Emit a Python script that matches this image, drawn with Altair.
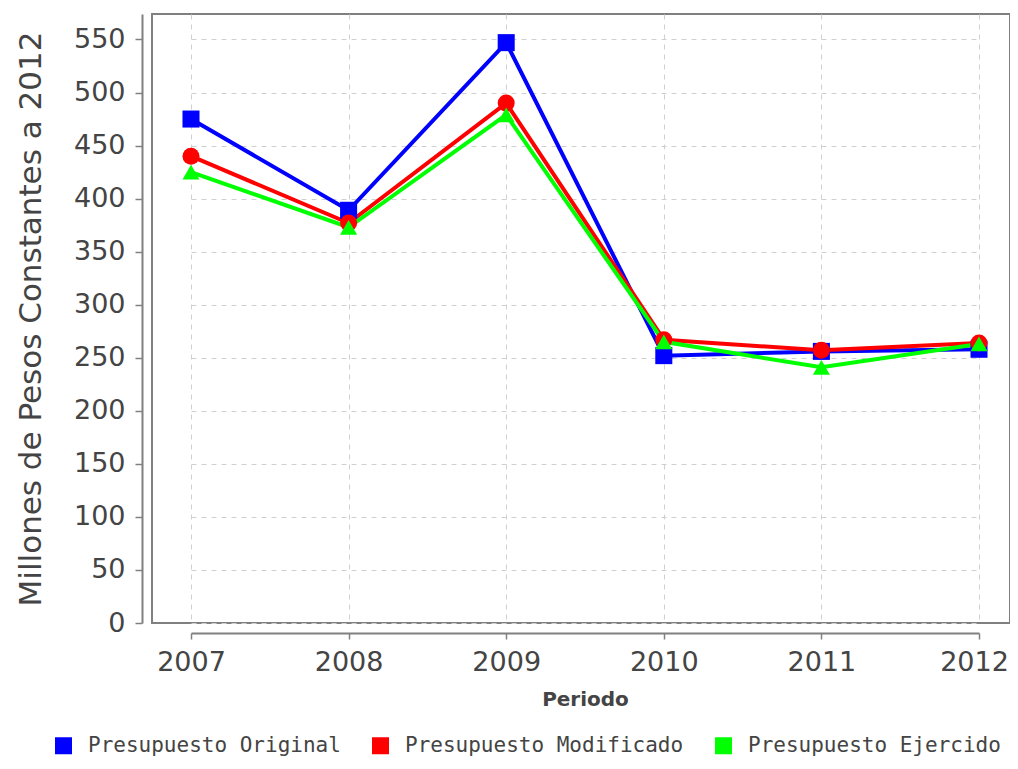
import altair as alt
import pandas as pd

years = ["2007", "2008", "2009", "2010", "2011", "2012"]
series_names = ["Presupuesto Original", "Presupuesto Modificado", "Presupuesto Ejercido"]
original = [475, 389, 547, 252, 256, 258]
modificado = [440, 377, 490, 267, 257, 264]
ejercido = [425, 373, 479, 265, 241, 263]
colors = ["#0000FF", "#FF0000", "#00FF00"]
shapes = ["square", "circle", "triangle-up"]
y_ticks = list(range(0, 551, 50))

rows = []
for name, vals in zip(series_names, [original, modificado, ejercido]):
    for yr, v in zip(years, vals):
        rows.append({"Periodo": yr, "Serie": name, "Valor": v})
df = pd.DataFrame(rows)

grid_dash = [5, 5]
x_enc = alt.X("Periodo:N", sort=years,
              scale=alt.Scale(type="point", range=[39, 827], padding=0),
              axis=alt.Axis(title="Periodo", labelAngle=0, offset=10,
                            grid=True, gridDash=grid_dash, gridColor="#d0d0d0",
                            domainColor="#808080", domainWidth=2,
                            tickColor="#808080", tickSize=6, tickWidth=1.5,
                            labelFont="DejaVu Sans", labelFontSize=27, labelColor="#444444",
                            labelPadding=10,
                            labelOffset={"condition": {"test": "datum.label == '2012'", "value": -5},
                                         "value": 0},
                            titleFont="DejaVu Sans", titleFontSize=20, titleFontWeight="bold",
                            titleColor="#444444", titlePadding=14))
y_enc = alt.Y("Valor:Q",
              scale=alt.Scale(domain=[0, 574], nice=False, zero=True),
              axis=alt.Axis(title="Millones de Pesos Constantes a 2012", values=y_ticks,
                            offset=10, grid=True, gridDash=grid_dash, gridColor="#d0d0d0",
                            domainColor="#808080", domainWidth=2,
                            tickColor="#808080", tickSize=7, tickWidth=1.5,
                            labelFont="DejaVu Sans", labelFontSize=27, labelColor="#444444",
                            labelPadding=10,
                            titleFont="DejaVu Sans", titleFontSize=31, titleFontWeight="normal",
                            titleColor="#444444", titlePadding=26))

color_scale = alt.Scale(domain=series_names, range=colors)
leg = alt.Legend(title=None, symbolType="square")

base = alt.Chart(df)
lines = base.mark_line(strokeWidth=4).encode(
    x=x_enc, y=y_enc,
    color=alt.Color("Serie:N", scale=color_scale, legend=leg),
    order=alt.Order("Periodo:N"),
)
point_layers = []
for name, shp in zip(series_names, shapes):
    point_layers.append(
        base.transform_filter(alt.datum.Serie == name)
        .mark_point(filled=True, opacity=1, size=290, shape=shp)
        .encode(x=x_enc, y=y_enc,
                color=alt.Color("Serie:N", scale=color_scale, legend=leg)))

chart = alt.layer(lines, *point_layers).properties(
    width=858, height=609,
    autosize=alt.AutoSizeParams(type="none"),
    padding={"left": 144, "top": 6, "right": 0, "bottom": 138},
    background="white",
).configure_view(stroke="#808080", strokeWidth=2).configure_legend(
    orient="none", legendX=-99, legendY=721, direction="horizontal",
    symbolType="square", symbolSize=100, symbolStrokeWidth=7, symbolOpacity=1,
    labelFont="DejaVu Sans Mono", labelFontSize=21, labelColor="#444444",
    labelLimit=400, labelOffset=14, columnPadding=20,
)

chart.save("out.html", embed_options={"renderer": "svg", "actions": False})
